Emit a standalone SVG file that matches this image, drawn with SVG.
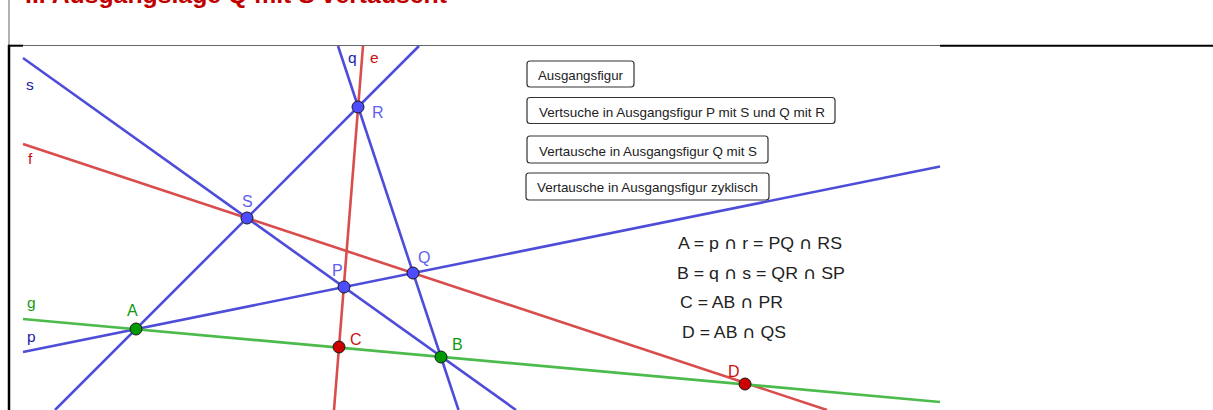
<svg xmlns="http://www.w3.org/2000/svg" width="1213" height="410" viewBox="0 0 1213 410">
<style>
.title{font-family:"Liberation Sans",Arial,sans-serif;font-weight:bold;font-size:24.5px;fill:#c00000}
.ln{stroke-width:2.6;fill:none;stroke-linecap:butt}
.blue{stroke:#4d4dd9}
.red{stroke:#d94d4d}
.green{stroke:#4cbb4c}
.pt{stroke:#1a1a1a;stroke-width:1}
.pb{fill:#4d4dff}
.pg{fill:#009900}
.pr{fill:#cc0000}
.lbl{font-family:"Liberation Sans",Arial,sans-serif;font-size:16px}
.lb{fill:#5f5fef}
.lg{fill:#119911}
.lr{fill:#cc1111}
.nm{font-family:"Liberation Sans",Arial,sans-serif;font-size:15.5px}
.btn rect{fill:#fff;stroke:#333;stroke-width:1.2}
.btn text{font-family:"Liberation Sans",Arial,sans-serif;font-size:13.3px;fill:#222}
.fm{font-family:"Liberation Sans",Arial,sans-serif;font-size:16.5px;fill:#222}
.cap{font-family:"DejaVu Sans",sans-serif;font-size:17px}
</style>
<rect width="1213" height="410" fill="#fff"/>
<text class="title" x="25" y="3" textLength="422" lengthAdjust="spacingAndGlyphs">II. Ausgangslage Q mit S vertauscht</text>
<g id="frame">
<line x1="9" y1="0" x2="9" y2="45" stroke="#666" stroke-width="1"/>
<line x1="9" y1="45.5" x2="940" y2="45.5" stroke="#666" stroke-width="1"/>
<line x1="940" y1="45.7" x2="1213" y2="45.7" stroke="#000" stroke-width="2"/>
<line x1="8" y1="45.7" x2="23" y2="45.7" stroke="#000" stroke-width="2"/>
<line x1="9" y1="45" x2="9" y2="410" stroke="#000" stroke-width="2.5"/>
</g>
<g id="connectors">
<line id="r" class="ln blue" x1="55" y1="410" x2="419" y2="46"/>
<line id="s" class="ln blue" x1="23" y1="58" x2="516" y2="410"/>
<line id="q" class="ln blue" x1="338" y1="46" x2="458.5" y2="410"/>
<line id="p" class="ln blue" x1="23" y1="352" x2="940" y2="166.5"/>
<line id="e" class="ln red" x1="363" y1="46" x2="334" y2="410"/>
<line id="f" class="ln red" x1="23" y1="144" x2="827" y2="410"/>
<line id="g" class="ln green" x1="23" y1="319" x2="940" y2="402"/>
</g>
<g id="line-labels" class="nm">
<text x="26" y="90" fill="#1a1aa8">s</text>
<text x="28" y="164" fill="#cc1111">f</text>
<text x="27" y="308" fill="#119911">g</text>
<text x="27" y="342" fill="#1a1aa8">p</text>
<text x="348" y="63" fill="#1a1aa8">q</text>
<text x="370" y="63" fill="#cc1111">e</text>
</g>
<g id="node-R"><circle class="pt pb" cx="358" cy="107" r="6"/><text class="lbl lb" x="372" y="118">R</text></g>
<g id="node-S"><circle class="pt pb" cx="247" cy="218" r="6"/><text class="lbl lb" x="242" y="207">S</text></g>
<g id="node-Q"><circle class="pt pb" cx="413" cy="273" r="6"/><text class="lbl lb" x="418" y="263">Q</text></g>
<g id="node-P"><circle class="pt pb" cx="344" cy="287" r="6"/><text class="lbl lb" x="332" y="276">P</text></g>
<g id="node-A"><circle class="pt pg" cx="136" cy="329" r="6"/><text class="lbl lg" x="127" y="316">A</text></g>
<g id="node-B"><circle class="pt pg" cx="441" cy="357" r="6"/><text class="lbl lg" x="452" y="350">B</text></g>
<g id="node-C"><circle class="pt pr" cx="339" cy="347" r="6"/><text class="lbl lr" x="350" y="345">C</text></g>
<g id="node-D"><circle class="pt pr" cx="745" cy="384" r="6"/><text class="lbl lr" x="728" y="377">D</text></g>
<g id="btn1" class="btn"><rect x="527" y="61" width="107" height="26" rx="3"/><text x="538" y="80">Ausgangsfigur</text></g>
<g id="btn2" class="btn"><rect x="527" y="97.5" width="308" height="26" rx="3"/><text x="539" y="117" textLength="286" lengthAdjust="spacingAndGlyphs">Vertsuche in Ausgangsfigur P mit S und Q mit R</text></g>
<g id="btn3" class="btn"><rect x="527" y="136" width="241" height="27" rx="3"/><text x="539" y="155.5" textLength="218" lengthAdjust="spacingAndGlyphs">Vertausche in Ausgangsfigur Q mit S</text></g>
<g id="btn4" class="btn"><rect x="526" y="173" width="243" height="27" rx="3"/><text x="537" y="192" textLength="221" lengthAdjust="spacingAndGlyphs">Vertausche in Ausgangsfigur zyklisch</text></g>
<g id="formulas" class="fm">
<text x="678" y="249" textLength="164" lengthAdjust="spacingAndGlyphs">A = p <tspan class="cap">∩</tspan> r = PQ <tspan class="cap">∩</tspan> RS</text>
<text x="677" y="279" textLength="168" lengthAdjust="spacingAndGlyphs">B = q <tspan class="cap">∩</tspan> s = QR <tspan class="cap">∩</tspan> SP</text>
<text x="680" y="308" textLength="103" lengthAdjust="spacingAndGlyphs">C = AB <tspan class="cap">∩</tspan> PR</text>
<text x="682" y="338" textLength="104" lengthAdjust="spacingAndGlyphs">D = AB <tspan class="cap">∩</tspan> QS</text>
</g>
</svg>
